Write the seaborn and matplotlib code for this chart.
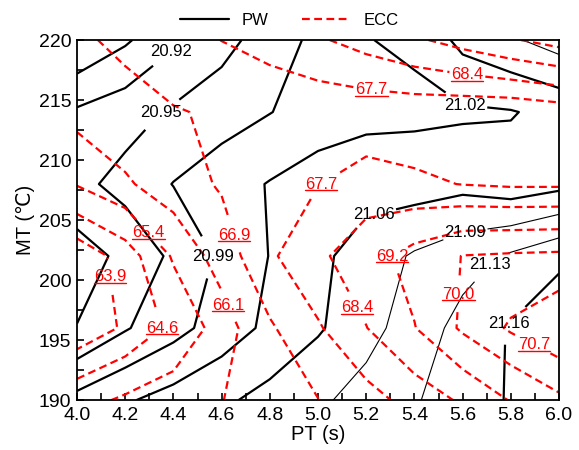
import numpy as np
import seaborn as sns
import matplotlib.pyplot as plt
from matplotlib.lines import Line2D

# grid (PT in s, MT in degC)
pt = [4.0, 4.2, 4.4, 4.6, 4.8, 5.0, 5.2, 5.4, 5.6, 5.8, 6.0]
mt = [190, 196, 202, 208, 214, 220]

# PW values, one row per MT (bottom to top)
pw = [
    [21.000, 21.021, 21.038, 21.054, 21.071, 21.089, 21.108, 21.127, 21.148, 21.168, 21.190],
    [20.921, 20.952, 20.978, 21.006, 21.033, 21.056, 21.083, 21.112, 21.141, 21.168, 21.190],
    [20.905, 20.928, 20.962, 20.996, 21.026, 21.052, 21.076, 21.099, 21.117, 21.135, 21.157],
    [20.945, 20.967, 20.991, 21.009, 21.027, 21.042, 21.047, 21.044, 21.050, 21.040, 21.050],
    [20.925, 20.940, 20.960, 20.975, 20.989, 21.005, 21.015, 21.018, 21.020, 21.023, 21.035],
    [20.850, 20.880, 20.914, 20.943, 20.972, 20.999, 21.024, 21.030, 21.070, 21.090, 21.110],
]

# ECC values, one row per MT (bottom to top)
ecc = [
    [65.10, 65.52, 65.81, 66.08, 66.50, 66.88, 67.43, 67.96, 68.51, 69.25, 69.85],
    [63.40, 64.00, 64.79, 65.73, 66.79, 67.62, 68.38, 69.17, 70.12, 70.80, 71.30],
    [63.40, 64.20, 65.49, 66.44, 67.59, 68.25, 68.86, 69.49, 70.02, 70.10, 70.15],
    [65.45, 66.00, 66.50, 66.99, 67.35, 67.68, 67.98, 67.83, 67.68, 67.60, 67.60],
    [66.35, 66.60, 66.85, 67.00, 67.14, 67.23, 67.25, 67.24, 67.18, 67.15, 67.30],
    [66.77, 67.07, 67.39, 67.71, 68.00, 68.31, 68.68, 69.08, 69.49, 69.92, 70.30],
]

pw_levels = [20.885, 20.92, 20.955, 20.99, 21.025, 21.06, 21.095, 21.13, 21.165]
pw_texts = ['20.88', '20.92', '20.95', '20.99', '21.02', '21.06', '21.09', '21.13', '21.16']
pw_widths = [1.6, 1.6, 1.6, 1.6, 1.6, 1.6, 0.8, 0.8, 1.6]

ecc_levels = [63.9, 64.6, 65.4, 66.1, 66.9, 67.7, 68.4, 69.2, 70.0, 70.7]
ecc_texts = ['63.9', '64.6', '65.4', '66.1', '66.9', '67.7', '68.4', '69.2', '70.0', '70.7']

# where the labels sit
pw_label_pos = [(4.40, 218.8), (4.36, 213.7), (4.58, 201.9), (5.61, 215.0),
                (5.23, 205.6), (5.61, 203.9), (5.70, 201.5), (5.80, 196.3)]
ecc_label_pos = [(4.15, 200.3), (4.29, 203.8), (4.66, 203.8), (4.39, 196.0),
                 (4.66, 198.2), (5.22, 215.4), (5.00, 208.3), (5.62, 217.2),
                 (5.18, 197.9), (5.29, 201.9), (5.61, 198.8), (5.89, 194.3)]

sns.set_style('ticks')
plt.rcParams['font.family'] = ['Liberation Sans', 'DejaVu Sans']
plt.rcParams['lines.dashed_pattern'] = [3.5, 2.0]
for key in ['text.color', 'axes.labelcolor', 'xtick.color', 'ytick.color']:
    plt.rcParams[key] = 'black'

fig = plt.figure(figsize=(5.79, 4.5), dpi=100)
ax = fig.add_axes([0.133, 0.111, 0.8325, 0.80])

X, Y = np.meshgrid(pt, mt)

cs_pw = ax.contour(X, Y, np.array(pw), levels=pw_levels, colors='black',
                   linewidths=pw_widths, linestyles='solid')
cs_ecc = ax.contour(X, Y, np.array(ecc), levels=ecc_levels, colors='red',
                    linewidths=1.6, linestyles='dashed')

pw_lbls = ax.clabel(cs_pw, fmt=dict(zip(pw_levels, pw_texts)), fontsize=12,
                    manual=pw_label_pos, inline=True, inline_spacing=2)
ecc_lbls = ax.clabel(cs_ecc, fmt=dict(zip(ecc_levels, ecc_texts)), fontsize=12,
                     colors='red', manual=ecc_label_pos, inline=True, inline_spacing=2)
for t in list(pw_lbls) + list(ecc_lbls):
    t.set_rotation(0)

ax.set_xlim(4.0, 6.0)
ax.set_ylim(190, 220)
ax.set_xticks(np.arange(4.0, 6.01, 0.2))
ax.set_xticks(np.arange(4.0, 6.01, 0.1), minor=True)
ax.set_yticks(np.arange(190, 221, 5))
ax.set_yticks(np.arange(190, 221, 2.5), minor=True)
ax.tick_params(which='both', direction='in', labelsize=14, width=1.2, color='black',
               length=5)
ax.tick_params(axis='x', which='both', pad=5)
ax.tick_params(axis='y', which='both', pad=4)
for s in ax.spines.values():
    s.set_linewidth(1.3)
    s.set_color('black')

ax.set_xlabel('PT (s)', fontsize=14.5, labelpad=1)
ax.set_ylabel('MT (℃)', fontsize=14.5, labelpad=3)

handles = [Line2D([], [], color='black', lw=1.6),
           Line2D([], [], color='red', lw=1.6, ls='--')]
fig.legend(handles, ['PW', 'ECC'], loc='upper center', bbox_to_anchor=(0.5, 1.005),
           ncol=2, frameon=False, fontsize=12, handlelength=2.9,
           handletextpad=0.8, columnspacing=2.0)

# underline the ECC labels, as in the original
fig.canvas.draw()
renderer = fig.canvas.get_renderer()
inv = fig.transFigure.inverted()
for t in ecc_lbls:
    bb = t.get_window_extent(renderer)
    (x0, y0), (x1, _) = inv.transform([(bb.x0, bb.y0 + 1.5), (bb.x1, bb.y0)])
    fig.add_artist(Line2D([x0, x1], [y0, y0], transform=fig.transFigure,
                          color='red', lw=1.0))

fig.savefig('out.png', dpi=100)
